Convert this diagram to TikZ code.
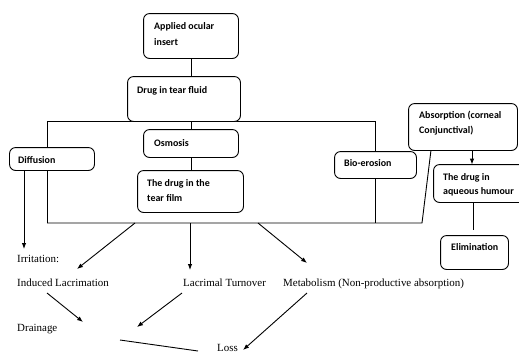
\documentclass[tikz,border=0pt]{standalone}
\usepackage{fontspec}
\setmainfont{Liberation Serif}
\newfontfamily\carlito{Carlito}
\usetikzlibrary{arrows.meta}
\tikzset{
  box/.style={draw, rounded corners=6bp, line width=0.9bp, fill=white, inner sep=0pt},
  btxt/.style={font=\carlito\bfseries\fontsize{10}{12}\selectfont, anchor=base west, inner sep=0pt},
  ltxt/.style={font=\fontsize{11}{13}\selectfont, anchor=base west, inner sep=0pt},
  conn/.style={line width=0.9bp},
  arr/.style={line width=0.9bp, -{Latex[length=6bp,width=4.5bp]}}
}
\begin{document}
\begin{tikzpicture}[x=1bp,y=-1bp]
\useasboundingbox (0,0) rectangle (519,353);
% named coordinates for junctions and free ends
\coordinate (tl) at (47,121);
\coordinate (bl) at (47,223);
\coordinate (br) at (422,223);
\coordinate (ab) at (431,150);
\coordinate (d1) at (135,223);
\coordinate (d1e) at (77,269);
\coordinate (d2) at (190,223);
\coordinate (d2e) at (190,270);
\coordinate (d3) at (258,223);
\coordinate (d3e) at (307,263);
\coordinate (irre) at (24,249);
\coordinate (e1s) at (47,293);
\coordinate (e1e) at (83,322);
\coordinate (e2s) at (182,293);
\coordinate (e2e) at (137,327);
\coordinate (e3s) at (307,293);
\coordinate (e3e) at (243,350);
\coordinate (l1s) at (120,340);
\coordinate (l1e) at (198,351);

% boxes (positions only; drawn after the lines below)
\path
  node[box, minimum width=94bp, minimum height=44bp] (insert) at (191,36) {}
  node[box, minimum width=112bp, minimum height=44bp] (fluid) at (184,99) {}
  node[box, minimum width=94bp, minimum height=27bp] (osmosis) at (191,143.5) {}
  node[box, minimum width=84bp, minimum height=22bp] (diffusion) at (52,159) {}
  node[box, minimum width=105bp, minimum height=41bp] (film) at (190.5,191.5) {}
  node[box, minimum width=81bp, minimum height=26bp] (bio) at (375.5,165) {}
  node[box, minimum width=108bp, minimum height=46bp] (absorption) at (463,127) {}
  node[box, minimum width=96bp, minimum height=37bp] (aqueous) at (482,183.5) {}
  node[box, minimum width=67bp, minimum height=33bp] (elimination) at (474.5,252.5) {};

% connectors
\draw[conn] (insert.south) -- (insert.south |- fluid.north);
\draw[conn] (bl) -- (tl) -| (bio.north);
\draw[conn] (osmosis.north |- fluid.south) -- (osmosis.north);
\draw[conn] (osmosis.south) -- (osmosis.south |- film.north);
\draw[conn] (bio.south) -- (bio.south |- br);
\draw[conn] (bl) -- (br) -- (ab);
\draw[arr] ([xshift=9bp]absorption.south) -- ([xshift=9bp]absorption.south |- aqueous.north);
\draw[conn, shorten >=6bp] ([xshift=-1.5bp]elimination.north |- aqueous.south) -- ([xshift=-1.5bp]elimination.north);
\draw[arr] (diffusion.south -| irre) -- (irre);
\draw[arr] (d1) -- (d1e);
\draw[arr] (d2) -- (d2e);
\draw[arr] (d3) -- (d3e);
\draw[arr] (e1s) -- (e1e);
\draw[arr] (e2s) -- (e2e);
\draw[arr] (e3s) -- (e3e);
\draw[conn] (l1s) -- (l1e);

% redraw boxes on top of the lines
\foreach \n in {insert, fluid, osmosis, diffusion, film, bio, absorption, aqueous, elimination}{
  \draw[box] (\n.south west) rectangle (\n.north east);
}

% box texts
\node[btxt] (t1a) at (154,29.5) {Applied ocular};
\node[btxt] (t1b) at (154,45) {insert};
\node[btxt] (t2) at (137,93) {Drug in tear fluid};
\node[btxt] (t3) at (154,146) {Osmosis};
\node[btxt] (t4) at (18,163) {Diffusion};
\node[btxt] (t5a) at (147,186.5) {The drug in the};
\node[btxt] (t5b) at (147,201.5) {tear film};
\node[btxt] (t6) at (344,166) {Bio-erosion};
\node[btxt] (t7a) at (419,118.5) {Absorption (corneal};
\node[btxt] (t7b) at (419,133) {Conjunctival)};
\node[btxt] (t8a) at (443,180) {The drug in};
\node[btxt] (t8b) at (443,194) {aqueous humour};
\node[btxt] (t9) at (451,250) {Elimination};

% plain texts
\node[ltxt] (irr) at (17,262) {Irritation:};
\node[ltxt] (ind) at (17,286) {Induced Lacrimation};
\node[ltxt] (lac) at (183,286) {Lacrimal Turnover};
\node[ltxt] (met) at (283,286) {Metabolism (Non-productive absorption)};
\node[ltxt] (dra) at (17,331) {Drainage};
\node[ltxt] (los) at (217,351.5) {Loss};
\end{tikzpicture}
\end{document}
